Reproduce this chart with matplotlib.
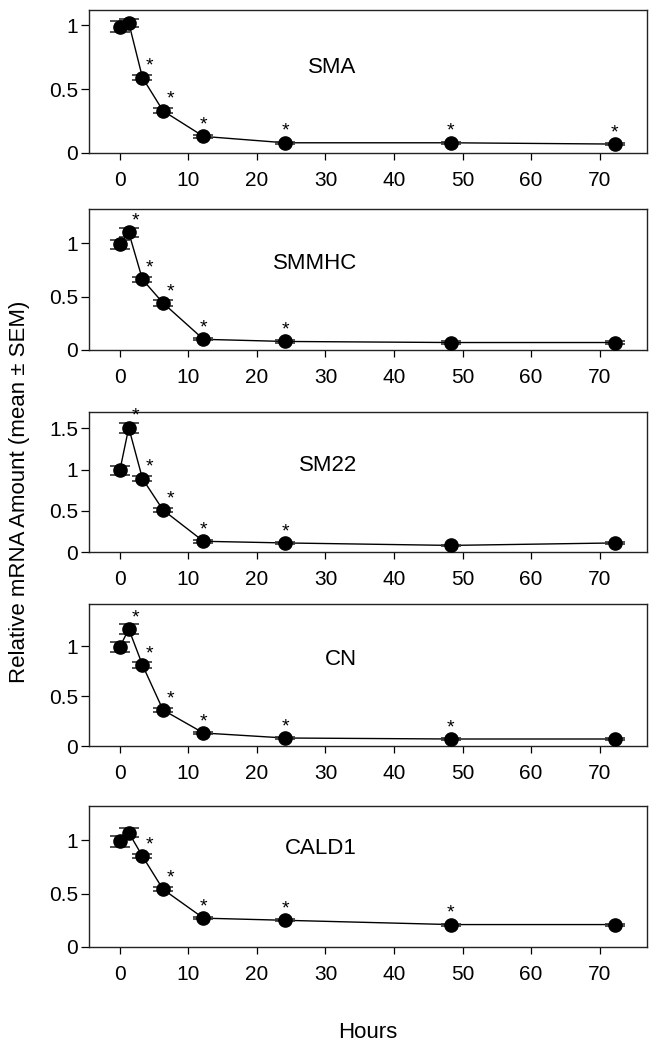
import matplotlib

matplotlib.use("Agg")
import matplotlib.pyplot as plt

plt.rcParams["font.family"] = ["Liberation Sans", "DejaVu Sans"]

# sampling times (hours)
hours = [0.0, 1.3, 3.3, 6.3, 12.2, 24.1, 48.3, 72.2]

genes = ["SMA", "SMMHC", "SM22", "CN", "CALD1"]

sma = [0.99, 1.02, 0.59, 0.33, 0.13, 0.08, 0.08, 0.07]
sma_sem = [0.04, 0.03, 0.02, 0.02, 0.01, 0.01, 0.01, 0.01]
sma_sig = [0, 0, 1, 1, 1, 1, 1, 1]

smmhc = [0.99, 1.10, 0.66, 0.44, 0.10, 0.08, 0.07, 0.07]
smmhc_sem = [0.04, 0.04, 0.02, 0.03, 0.01, 0.01, 0.01, 0.01]
smmhc_sig = [0, 1, 1, 1, 1, 1, 0, 0]

sm22 = [0.99, 1.51, 0.89, 0.51, 0.13, 0.11, 0.08, 0.11]
sm22_sem = [0.06, 0.06, 0.03, 0.03, 0.02, 0.01, 0.01, 0.01]
sm22_sig = [0, 1, 1, 1, 1, 1, 0, 0]

cn = [0.99, 1.17, 0.81, 0.36, 0.13, 0.08, 0.07, 0.07]
cn_sem = [0.05, 0.05, 0.03, 0.02, 0.01, 0.01, 0.01, 0.01]
cn_sig = [0, 1, 1, 1, 1, 1, 1, 0]

cald1 = [0.99, 1.07, 0.85, 0.54, 0.27, 0.25, 0.21, 0.21]
cald1_sem = [0.05, 0.04, 0.02, 0.02, 0.01, 0.01, 0.01, 0.01]
cald1_sig = [0, 0, 1, 1, 1, 1, 1, 0]

values = [sma, smmhc, sm22, cn, cald1]
sems = [sma_sem, smmhc_sem, sm22_sem, cn_sem, cald1_sem]
sigs = [sma_sig, smmhc_sig, sm22_sig, cn_sig, cald1_sig]

y_tops = [1.12, 1.32, 1.70, 1.42, 1.32]
y_ticks = [[0, 0.5, 1], [0, 0.5, 1], [0, 0.5, 1, 1.5], [0, 0.5, 1], [0, 0.5, 1]]
x_ticks = [0, 10, 20, 30, 40, 50, 60, 70]
label_y = [0.595, 0.61, 0.615, 0.61, 0.70]

W, H = 654, 1050
fig = plt.figure(figsize=(W / 100, H / 100), dpi=100)

# panel frames in pixels (top, bottom)
panels_px = [(10, 153), (209, 350), (412, 552), (604, 746), (806, 947)]
left_px, right_px = 89, 647

for i, gene in enumerate(genes):
    top, bot = panels_px[i]
    ax = fig.add_axes([left_px / W, 1 - bot / H, (right_px - left_px) / W, (bot - top) / H])

    ax.plot(hours, values[i], color="black", lw=1.0, zorder=2)
    ax.errorbar(hours, values[i], yerr=sems[i], fmt="none", ecolor="#333333",
                elinewidth=1.0, capsize=7, capthick=1.2, zorder=3)
    ax.plot(hours, values[i], "o", color="black", ms=9.5, zorder=4)

    for t, v, s in zip(hours, values[i], sigs[i]):
        if s:
            dx = 5 if t < 10 else 0
            ax.annotate("*", xy=(t, v), xytext=(dx, 5), textcoords="offset points",
                        ha="center", va="baseline", fontsize=14)

    ax.text(0.48, label_y[i], gene, transform=ax.transAxes, ha="right", va="center",
            fontsize=16)

    ax.set_xlim(-4.5, 76.9)
    ax.set_ylim(0, y_tops[i])
    ax.set_xticks(x_ticks)
    ax.set_yticks(y_ticks[i])
    ax.set_yticklabels(["%g" % v for v in y_ticks[i]])
    ax.tick_params(axis="x", direction="out", length=5, width=0.9, pad=8, labelsize=15)
    ax.tick_params(axis="y", direction="out", length=6, width=0.9, pad=2, labelsize=15)
    for sp in ax.spines.values():
        sp.set_linewidth(1.0)
        sp.set_color("#222222")

fig.text(20 / W, 1 - 492 / H, "Relative mRNA Amount (mean \u00b1 SEM)", rotation=90,
         ha="center", va="center", fontsize=16)
fig.text(368 / W, 1 - 1032 / H, "Hours", ha="center", va="center", fontsize=16)

fig.savefig("out.png", dpi=100)
